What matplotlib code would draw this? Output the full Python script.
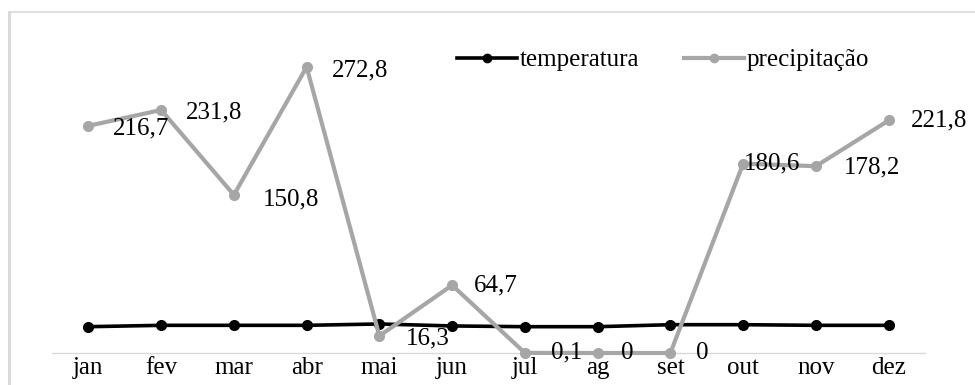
import matplotlib
matplotlib.use("Agg")
import matplotlib.pyplot as plt
from matplotlib.patches import Rectangle
from matplotlib.lines import Line2D

months = ["jan", "fev", "mar", "abr", "mai", "jun", "jul", "ag", "set", "out", "nov", "dez"]
precipitacao = [216.7, 231.8, 150.8, 272.8, 16.3, 64.7, 0.1, 0, 0, 180.6, 178.2, 221.8]
precip_labels = ["216,7", "231,8", "150,8", "272,8", "16,3", "64,7", "0,1", "0", "0", "180,6", "178,2", "221,8"]
temperatura = [25.1, 26.4, 26.4, 26.4, 27.7, 25.8, 25.1, 25.1, 27.0, 27.0, 26.4, 26.4]

# label offsets in pixels (dx, dy), dy positive = up
label_offsets = [(25, -3), (25, -2), (29, -5), (25, -3), (26, -3), (22, 0),
                 (26, 0), (23, 0), (26, 0), (1, 0), (28, -1), (22, 0)]

plt.rcParams["font.family"] = ["Liberation Serif", "DejaVu Serif"]
FS = 18

W, H = 975, 385
fig = plt.figure(figsize=(W / 100, H / 100), dpi=100)
fig.patch.set_facecolor("white")

# outer chart border (light gray)
fig.patches.append(Rectangle((9 / W, -0.2), 1.2, (H - 11.5) / H + 0.2, transform=fig.transFigure,
                             fill=False, edgecolor="#d9d9d9", linewidth=1.2, zorder=0))
fig.patches.append(Rectangle((8 / W, -0.2), 2.5 / W, (H - 11.5) / H + 0.2, transform=fig.transFigure,
                             fill=True, facecolor="#d9d9d9", edgecolor="none", zorder=0))

left = 52 / W
width = 873 / W
bottom = (H - 353) / H
height = 314.5 / H
ax = fig.add_axes([left, bottom, width, height])
ax.set_xlim(-0.5, 11.5)
ax.set_ylim(0, 300)
for s in ["top", "right", "left"]:
    ax.spines[s].set_visible(False)
ax.spines["bottom"].set_color("#d9d9d9")
ax.spines["bottom"].set_linewidth(1.0)
ax.set_yticks([])
x = list(range(len(months)))
ax.set_xticks(x)
ax.set_xticklabels(months, fontsize=FS)
ax.tick_params(axis="x", length=0, pad=3)
ax.patch.set_alpha(0)

ax.plot(x, temperatura, color="black", lw=2.6, marker="o", ms=7, zorder=3, clip_on=False)
ax.plot(x, precipitacao, color="#a6a6a6", lw=3.0, marker="o", ms=7, zorder=4, clip_on=False)

for xi, yi, lab, (dx, dy) in zip(x, precipitacao, precip_labels, label_offsets):
    ax.annotate(lab, (xi, yi), xytext=(dx * 0.72, dy * 0.72), textcoords="offset points",
                ha="left", va="center", fontsize=FS, color="black", zorder=5,
                annotation_clip=False)

handles = [Line2D([], [], color="black", lw=2.6, marker="o", ms=6),
           Line2D([], [], color="#a6a6a6", lw=3.0, marker="o", ms=6)]
fig.legend(handles, ["temperatura", "precipitação"], loc="center",
           bbox_to_anchor=(663 / W, (H - 60) / H), ncol=2, frameon=False,
           fontsize=FS, handlelength=2.4, handletextpad=0.1, columnspacing=1.8)

fig.savefig("out.png", dpi=100, facecolor="white")
